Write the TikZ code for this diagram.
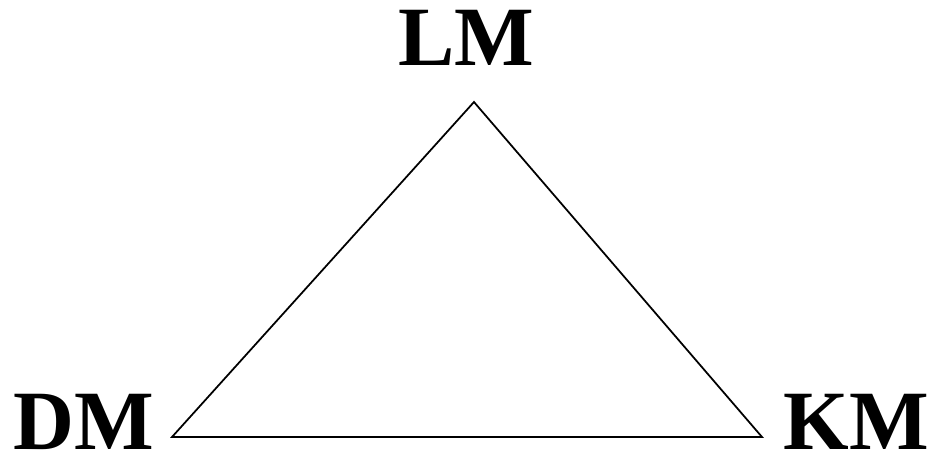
\documentclass[tikz,border=0pt]{standalone}
\usepackage{fontspec}
\setmainfont{Liberation Serif}
\usetikzlibrary{positioning}

\begin{document}
\begin{tikzpicture}[
    x=0.01cm, y=-0.01cm,
    lbl/.style={font=\fontsize{24}{28}\selectfont\bfseries, inner sep=0pt,
                text depth=0pt, anchor=base},
    edge/.style={draw, line width=0.5pt},
]
\useasboundingbox (0,0) rectangle (932,454);
% corners of the triangle
\coordinate (lm) at (474,102);
\coordinate (dm) at (172,437);
\coordinate (km) at (762,437);
% labels
\node[lbl] (lmtext) at (466,65) {LM};
\node[lbl] (dmtext) at (84,449) {DM};
\node[lbl] (kmtext) at (856,449) {KM};

\draw[edge] (lm) -- (dm) -- (km) -- cycle;
\end{tikzpicture}
\end{document}
